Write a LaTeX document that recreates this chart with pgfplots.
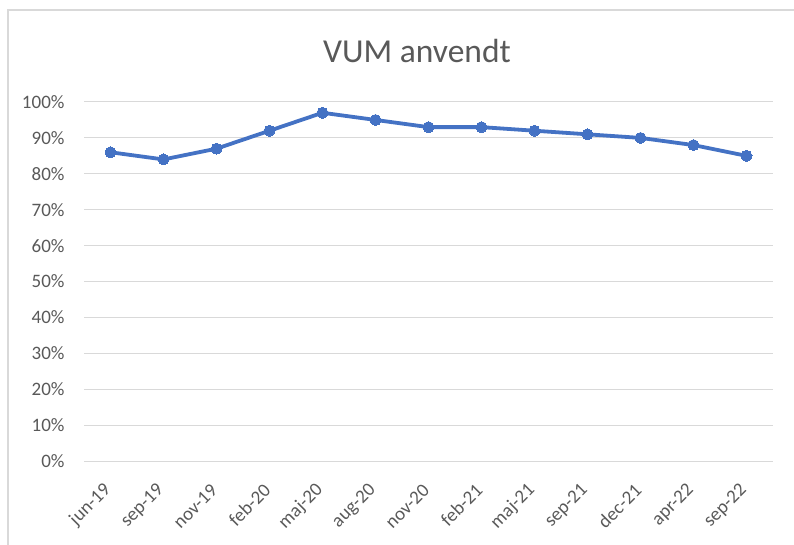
\documentclass[border=0pt]{standalone}
\usepackage{pgfplots}
\pgfplotsset{compat=1.18}
\usepackage{fontspec}
\setmainfont{Carlito}
\definecolor{lineblue}{HTML}{4472C4}
\definecolor{gridgray}{HTML}{D9D9D9}
\definecolor{txtgray}{HTML}{595959}
\begin{document}
\begin{tikzpicture}
\path[use as bounding box] (-84pt,-83pt) rectangle (710pt,461pt);
\draw[gridgray, line width=1.2pt] (-76pt,-90pt) -- (-76pt,451pt) -- (720pt,451pt);
\node[txtgray, font=\fontsize{33.5}{40}\selectfont] at (333pt,410pt) {VUM anvendt};
\begin{axis}[
  at={(0pt,0pt)}, anchor=south west,
  scale only axis, width=689pt, height=359pt,
  xmin=-0.5, xmax=12.5, ymin=0, ymax=100,
  axis line style={draw=none},
  axis x line*=bottom,
  xtick=data,
  xticklabels={jun-19,sep-19,nov-19,feb-20,maj-20,aug-20,nov-20,feb-21,maj-21,sep-21,dec-21,apr-22,sep-22},
  ytick={0,10,...,100},
  yticklabel={\pgfmathprintnumber{\tick}\%},
  /pgf/number format/assume math mode=true,
  ymajorgrids, major grid style={gridgray, line width=1pt},
  major tick length=0pt,
  tick label style={txtgray, font=\fontsize{19}{22}\selectfont},
  yticklabel style={anchor=east, xshift=-16pt},
  xticklabel style={rotate=45, anchor=east},
  xticklabel shift=24pt,
  clip=false,
]
\addplot[lineblue, line width=3.8pt, mark=*, mark size=5.5pt, mark options={fill=lineblue, draw=lineblue, line width=0pt}]
coordinates {(0,86) (1,84) (2,87) (3,92) (4,97) (5,95) (6,93) (7,93) (8,92) (9,91) (10,90) (11,88) (12,85)};
\end{axis}
\end{tikzpicture}
\end{document}
